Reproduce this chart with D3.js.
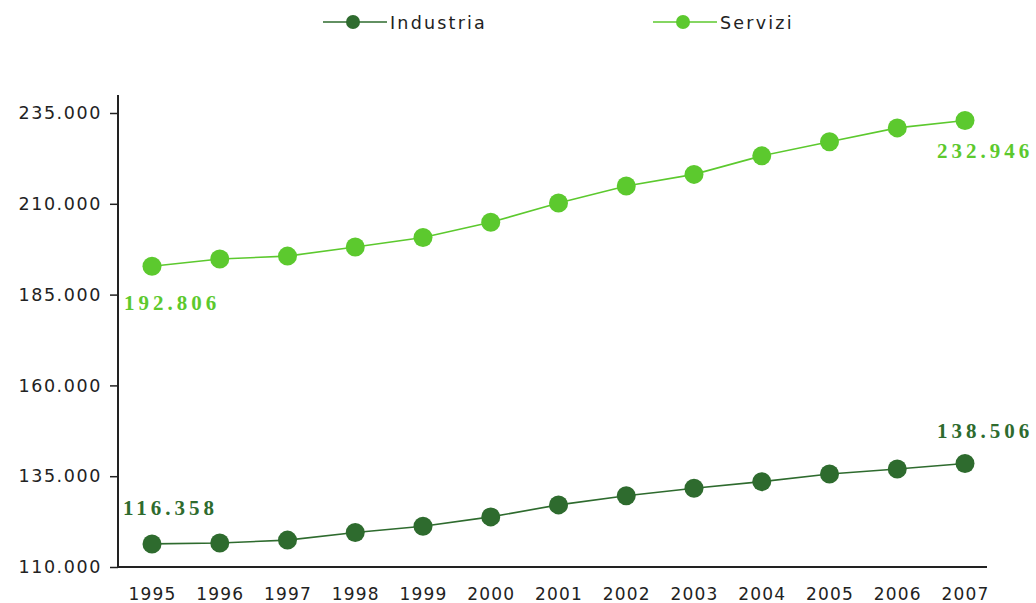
<!DOCTYPE html>
<html>
<head>
<meta charset="utf-8">
<script src="https://cdn.jsdelivr.net/npm/d3@7"></script>
<style>
  body { margin: 0; background: #fff; }
  svg text { font-family: "DejaVu Sans", Verdana, sans-serif; }
</style>
</head>
<body>
<div class="canvas"></div>
<script>
// data
const years = ['1995','1996','1997','1998','1999','2000','2001','2002','2003','2004','2005','2006','2007'];
const industria = [116358, 116600, 117400, 119500, 121200, 123800, 127100, 129600, 131700, 133500, 135600, 137000, 138506];
const servizi = [192806, 194800, 195600, 198100, 200700, 204900, 210200, 214900, 218100, 223200, 227100, 230900, 232946];
const yTicks = [110000, 135000, 160000, 185000, 210000, 235000];

const dark = '#2e6b2e';
const light = '#5cc92e';

const dim = { width: 1036, height: 603 };
const margin = { left: 118, top: 95 };

const svg = d3.select('.canvas')
  .append('svg')
  .attr('width', dim.width)
  .attr('height', dim.height);

// scales
const x = d3.scalePoint()
  .domain(years)
  .range([152, 965]);

const y = d3.scaleLinear()
  .domain([110000, 235000])
  .range([567, 113]);

// italian style thousands separator
const fmt = d => d3.format(',')(d).replace(/,/g, '.');

// y axis
const yAxis = d3.axisLeft(y)
  .tickValues(yTicks)
  .tickSize(8)
  .tickFormat(fmt);

const yG = svg.append('g')
  .attr('transform', `translate(${margin.left},0)`)
  .call(yAxis);
yG.select('.domain').remove();
yG.selectAll('.tick line').attr('stroke', '#222').attr('stroke-width', 1.5);
yG.selectAll('text')
  .attr('x', -16)
  .attr('font-size', 17.5)
  .attr('fill', '#222')
  .style('letter-spacing', '1.6px');

svg.append('line')
  .attr('x1', margin.left).attr('x2', margin.left)
  .attr('y1', margin.top).attr('y2', 568)
  .attr('stroke', '#222').attr('stroke-width', 2);

// x axis
const xAxis = d3.axisBottom(x).tickSize(0).tickPadding(21);
const xG = svg.append('g')
  .attr('transform', `translate(0,${y(110000)})`)
  .call(xAxis);
xG.select('.domain').remove();
xG.selectAll('text')
  .attr('font-size', 17)
  .attr('fill', '#222')
  .style('letter-spacing', '1.2px');

svg.append('line')
  .attr('x1', margin.left).attr('x2', 987)
  .attr('y1', y(110000)).attr('y2', y(110000))
  .attr('stroke', '#222').attr('stroke-width', 2);

// series
const series = [
  { name: 'Industria', values: industria, colour: dark },
  { name: 'Servizi', values: servizi, colour: light }
];

const line = d3.line()
  .x((d, i) => x(years[i]))
  .y(d => y(d));

series.forEach(s => {
  svg.append('path')
    .attr('d', line(s.values))
    .attr('fill', 'none')
    .attr('stroke', s.colour)
    .attr('stroke-width', 1.6);

  svg.selectAll(null)
    .data(s.values)
    .enter()
    .append('circle')
      .attr('cx', (d, i) => x(years[i]))
      .attr('cy', d => y(d))
      .attr('r', 9.5)
      .attr('fill', s.colour);
});

// value labels at first and last points
const labels = [
  { v: industria[0], i: 0, dx: -29, dy: -29, colour: dark },
  { v: industria[12], i: 12, dx: -28, dy: -25, colour: dark },
  { v: servizi[0], i: 0, dx: -28, dy: 44, colour: light },
  { v: servizi[12], i: 12, dx: -28, dy: 38, colour: light }
];
svg.selectAll('.vlabel')
  .data(labels)
  .enter()
  .append('text')
    .attr('class', 'vlabel')
    .attr('x', d => x(years[d.i]) + d.dx)
    .attr('y', d => y(d.v) + d.dy)
    .attr('font-size', 21)
    .attr('font-weight', 'bold')
    .style('font-family', '"Liberation Serif", serif')
    .style('letter-spacing', '4px')
    .attr('fill', d => d.colour)
    .text(d => fmt(d.v));

// legend
const legend = svg.append('g');
const legendItems = [
  { name: 'Industria', colour: dark, x: 323 },
  { name: 'Servizi', colour: light, x: 653 }
];
legendItems.forEach(l => {
  legend.append('line')
    .attr('x1', l.x).attr('x2', l.x + 64)
    .attr('y1', 22).attr('y2', 22)
    .attr('stroke', l.colour).attr('stroke-width', 1.6);
  legend.append('circle')
    .attr('cx', l.x + 30).attr('cy', 22).attr('r', 7)
    .attr('fill', l.colour);
  legend.append('text')
    .attr('x', l.x + 67).attr('y', 29)
    .attr('font-size', 17.5)
    .attr('fill', '#222')
    .style('letter-spacing', '2.2px')
    .text(l.name);
});
</script>
</body>
</html>
